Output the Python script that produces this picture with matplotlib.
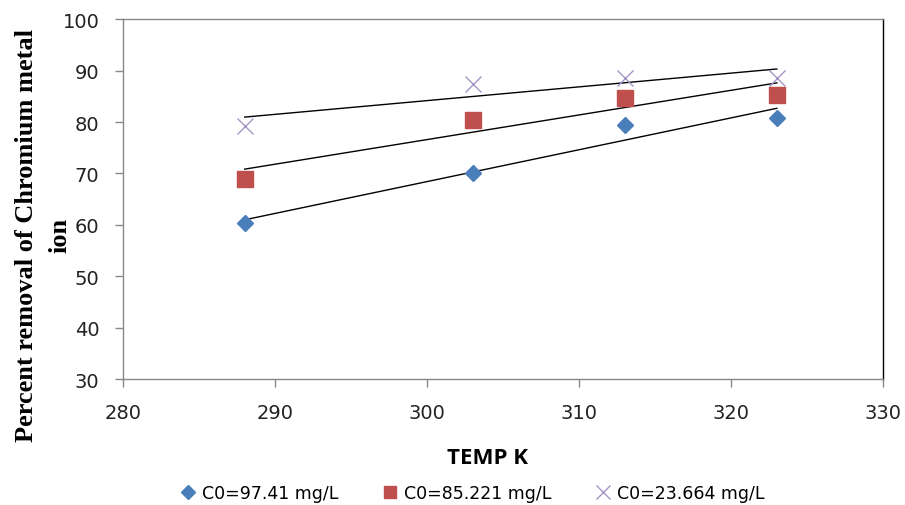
import matplotlib
matplotlib.use("Agg")
import matplotlib.pyplot as plt
import numpy as np

# Percent removal of Cr ion vs temperature for three initial concentrations
temp_k = [288, 303, 313, 323]
removal_c97 = [60.3, 70.0, 79.4, 80.7]
removal_c85 = [69.0, 80.3, 84.7, 85.3]
removal_c23 = [79.3, 87.4, 88.6, 88.6]
labels = ["C0=97.41 mg/L", "C0=85.221 mg/L", "C0=23.664 mg/L"]

BLUE = '#4a7ebb'
RED = '#c0504d'
LILAC = '#a395c6'
GRID_GREY = '#888888'

fig = plt.figure(figsize=(9.05, 5.06), dpi=100)
ax = fig.add_axes([0.136, 0.249, 0.840, 0.711])

styles = [
    dict(marker='D', color=BLUE, markersize=8, linestyle='none'),
    dict(marker='s', color=RED, markersize=11, linestyle='none'),
    dict(marker='x', color=LILAC, markersize=12, markeredgewidth=1.0,
         linestyle='none'),
]

x = np.array(temp_k, dtype=float)
for y, lab, st in zip([removal_c97, removal_c85, removal_c23], labels, styles):
    ax.plot(x, y, label=lab, zorder=3, **st)
    # linear trend line across the measured range
    k, b = np.polyfit(x, y, 1)
    xx = np.array([x.min(), x.max()])
    ax.plot(xx, k * xx + b, color='black', linewidth=1.0, zorder=2)

ax.set_xlim(280, 330)
ax.set_ylim(30, 100)
ax.set_xticks(range(280, 331, 10))
ax.set_yticks(range(30, 101, 10))

for side in ['left', 'bottom', 'top']:
    ax.spines[side].set_color(GRID_GREY)
ax.spines['right'].set_color('black')
for sp in ax.spines.values():
    sp.set_linewidth(1.0)

ax.tick_params(direction='out', length=6, color=GRID_GREY, width=1,
               labelsize=14, labelcolor='#222222', pad=11)
ax.tick_params(axis='y', pad=11)
for t in ax.get_xticklabels() + ax.get_yticklabels():
    t.set_family('DejaVu Sans')

ax.set_xlabel("TEMP K", fontsize=16, fontweight='bold', family='Open Sans')
ax.xaxis.set_label_coords(0.479, -0.188)

fig.text(0.048, 0.535, "Percent removal of Chromium metal\nion",
         rotation=90, ha='center', va='center', multialignment='center',
         fontsize=19, fontweight='bold', family='Liberation Serif',
         linespacing=1.6)

ax.legend(loc='upper center', bbox_to_anchor=(0.460, -0.272), ncol=3,
          frameon=False, handlelength=0.8, handletextpad=0.4,
          columnspacing=2.6, borderaxespad=0, markerscale=0.85,
          prop=dict(family='DejaVu Sans', size=12.5))

fig.savefig("out.png", dpi=100, facecolor='white')
